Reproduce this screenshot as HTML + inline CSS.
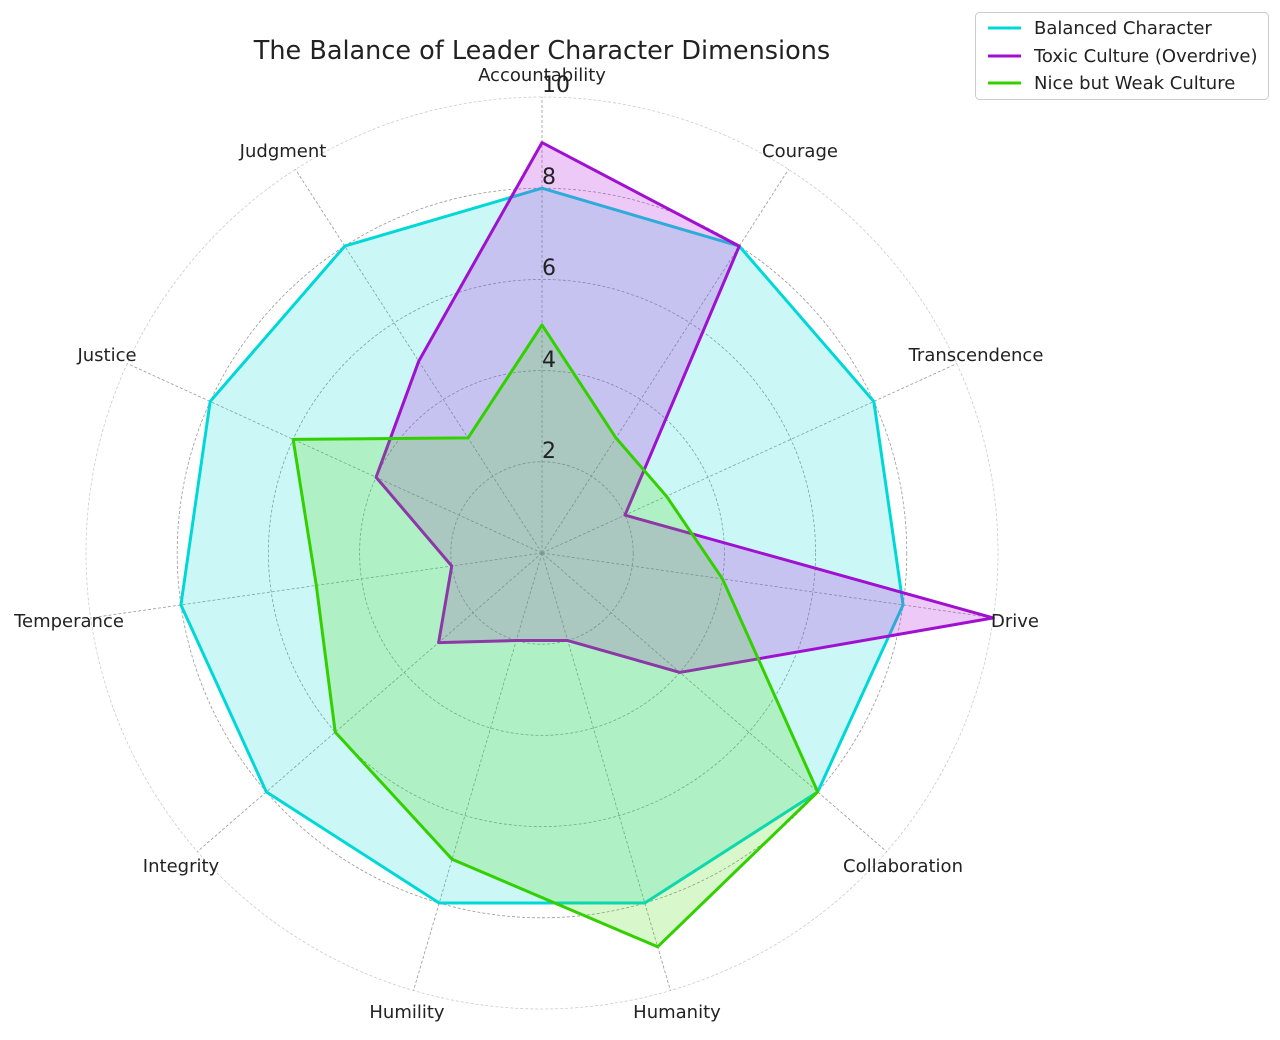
<!DOCTYPE html>
<html><head><meta charset="utf-8"><style>
body{margin:0;background:#fff;}
svg text{font-family:"DejaVu Sans","Liberation Sans",sans-serif;fill:#222;}
</style></head><body>
<svg id="s" width="1280" height="1035" xmlns="http://www.w3.org/2000/svg">
<g id="grid"></g>
<g id="series"></g>
<text x="542" y="59" font-size="25.5" text-anchor="middle">The Balance of Leader Character Dimensions</text>
<g font-size="18" text-anchor="middle">
<text x="542" y="81">Accountability</text>
<text x="800" y="157">Courage</text>
<text x="976" y="361">Transcendence</text>
<text x="1015" y="627">Drive</text>
<text x="903" y="872">Collaboration</text>
<text x="677" y="1018">Humanity</text>
<text x="407" y="1018">Humility</text>
<text x="181" y="872">Integrity</text>
<text x="69" y="627">Temperance</text>
<text x="107" y="361">Justice</text>
<text x="283" y="157">Judgment</text>
</g>
<g font-size="22">
<text x="542" y="458">2</text>
<text x="542" y="367">4</text>
<text x="542" y="275">6</text>
<text x="542" y="184">8</text>
<text x="542" y="92">10</text>
</g>
<rect x="975.5" y="12.5" width="293" height="87" rx="4" fill="#fff" stroke="#ccc"/>
<line x1="988" y1="28" x2="1021" y2="28" stroke="#00d8d8" stroke-width="3"/>
<line x1="988" y1="56" x2="1021" y2="56" stroke="#a010d0" stroke-width="3"/>
<line x1="988" y1="83" x2="1021" y2="83" stroke="#33d000" stroke-width="3"/>
<g font-size="18"><text x="1034" y="34">Balanced Character</text><text x="1034" y="62">Toxic Culture (Overdrive)</text><text x="1034" y="89">Nice but Weak Culture</text></g>
</svg>
<script>
var cx=542,cy=553,u=45.6,n=11;
function pt(k,v){var a=(-90+360/n*k)*Math.PI/180;return [cx+Math.cos(a)*v*u,cy+Math.sin(a)*v*u];}
var g=document.getElementById('grid'),h='';
[2,4,6,8,10].forEach(function(r){h+='<circle cx="'+cx+'" cy="'+cy+'" r="'+r*u+'" fill="none" stroke="'+(r==10?'#ccc':'#999')+'" stroke-width="0.8" stroke-dasharray="3,2"/>';});
for(var k=0;k<n;k++){var p=pt(k,10);h+='<line x1="'+cx+'" y1="'+cy+'" x2="'+p[0]+'" y2="'+p[1]+'" stroke="#999" stroke-width="0.8" stroke-dasharray="3,2"/>';}
g.innerHTML=h;
var S=[[[8,8,8,8,8,8,8,8,8,8,8],'#00d8d8','rgba(0,216,216,0.2)'],
[[9,8,2,10,4,2,2,3,2,4,5],'#a010d0','rgba(180,40,220,0.25)'],
[[5,3,3,4,8,9,7,6,5,6,3],'#33d000','rgba(60,220,0,0.2)']];
var sh='';
S.forEach(function(s){var ps=s[0].map(function(v,k){return pt(k,v).join(',');}).join(' ');
sh+='<polygon points="'+ps+'" fill="'+s[2]+'" stroke="'+s[1]+'" stroke-width="3" stroke-linejoin="round"/>';});
document.getElementById('series').innerHTML=sh;
</script>
</body></html>
